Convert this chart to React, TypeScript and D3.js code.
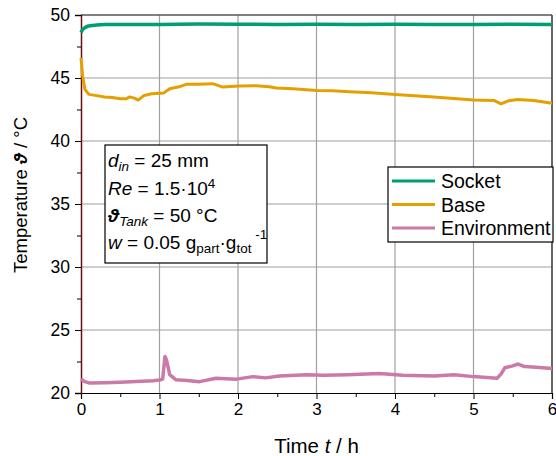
import { useEffect, useRef } from "react";
import * as d3 from "d3";

// values (time in h, temperature in °C)
const socketT = [0, 0.02, 0.05, 0.08, 0.12, 0.2, 0.3, 0.5, 1, 1.5, 2, 2.5, 3, 3.5, 4, 4.5, 5, 5.5, 6];
const socketV = [48.6, 48.85, 49.0, 49.1, 49.15, 49.2, 49.25, 49.25, 49.25, 49.28, 49.27, 49.25, 49.26, 49.25, 49.26, 49.25, 49.25, 49.26, 49.25];

const baseT = [0, 0.02, 0.05, 0.1, 0.2, 0.3, 0.4, 0.5, 0.58, 0.62, 0.68, 0.73, 0.8, 0.9, 1.0, 1.05, 1.13, 1.25, 1.34, 1.5, 1.68, 1.75, 1.81, 1.9, 2.02, 2.23, 2.4, 2.49, 2.7, 3.0, 3.2, 3.42, 3.7, 4.0, 4.25, 4.49, 4.75, 5.0, 5.26, 5.35, 5.45, 5.56, 5.77, 6.0];
const baseV = [46.6, 45.2, 44.1, 43.7, 43.6, 43.5, 43.45, 43.35, 43.35, 43.5, 43.4, 43.25, 43.6, 43.75, 43.78, 43.8, 44.15, 44.3, 44.5, 44.5, 44.55, 44.4, 44.28, 44.32, 44.37, 44.38, 44.3, 44.2, 44.15, 44.0, 43.98, 43.9, 43.82, 43.7, 43.6, 43.5, 43.38, 43.25, 43.22, 42.95, 43.2, 43.3, 43.22, 43.0];

const envT = [0, 0.05, 0.1, 0.3, 0.5, 0.7, 0.92, 1.0, 1.04, 1.07, 1.09, 1.13, 1.21, 1.35, 1.51, 1.72, 1.98, 2.19, 2.35, 2.53, 2.87, 3.1, 3.4, 3.8, 4.1, 4.5, 4.75, 5.0, 5.3, 5.35, 5.4, 5.5, 5.57, 5.65, 5.8, 6.0];
const envV = [21.1, 20.9, 20.8, 20.82, 20.86, 20.92, 20.98, 21.03, 21.1, 22.9, 22.6, 21.45, 21.05, 21.0, 20.9, 21.17, 21.1, 21.3, 21.2, 21.35, 21.45, 21.4, 21.45, 21.55, 21.4, 21.35, 21.45, 21.3, 21.17, 21.5, 22.0, 22.15, 22.3, 22.1, 22.05, 21.95];

const seriesNames = ["Socket", "Base", "Environment"];
const seriesColors = ["#009e73", "#e69f00", "#cc79a7"];
const xTicks = [0, 1, 2, 3, 4, 5, 6];
const yTicks = [20, 25, 30, 35, 40, 45, 50];

const FONT = "'Liberation Sans', Arial, sans-serif";

const App = () => {
  const ref = useRef<SVGSVGElement>(null);

  useEffect(() => {
    const svg = d3.select(ref.current);
    svg.selectAll("*").remove();

    const left = 81, right = 552, top = 15, bottom = 393;
    const x = d3.scaleLinear().domain([0, 6]).range([left, right]);
    const y = d3.scaleLinear().domain([20, 50]).range([bottom, top]);

    // grid
    const grid = svg.append("g").attr("stroke", "#a0a0a0").attr("stroke-width", 1.2);
    xTicks.slice(1, -1).forEach((t) => {
      grid.append("line").attr("x1", x(t)).attr("x2", x(t)).attr("y1", top).attr("y2", bottom);
    });
    yTicks.slice(1, -1).forEach((t) => {
      grid.append("line").attr("x1", left).attr("x2", right).attr("y1", y(t)).attr("y2", y(t));
    });

    // frame top/right
    svg.append("line").attr("x1", left).attr("x2", right).attr("y1", top).attr("y2", top)
      .attr("stroke", "#555").attr("stroke-width", 1.5);
    svg.append("line").attr("x1", right).attr("x2", right).attr("y1", top).attr("y2", bottom)
      .attr("stroke", "#333").attr("stroke-width", 1.5);

    // axes
    const xAxis = d3.axisBottom(x).tickValues(xTicks).tickSize(6).tickPadding(4).tickFormat(d3.format("d"));
    const gx = svg.append("g").attr("transform", `translate(0,${bottom})`).call(xAxis);
    gx.select(".domain").attr("stroke", "#000").attr("stroke-width", 1.2);
    gx.selectAll(".tick text").attr("font-family", FONT).attr("font-size", 17).attr("fill", "#000");
    const gxMinor = svg.append("g").attr("transform", `translate(0,${bottom})`)
      .call(d3.axisBottom(x).tickValues(d3.range(0.5, 6, 1)).tickSize(4).tickFormat(() => ""));
    gxMinor.select(".domain").remove();

    const yAxis = d3.axisLeft(y).tickValues(yTicks).tickSize(6).tickPadding(5);
    const gy = svg.append("g").attr("transform", `translate(${left},0)`).call(yAxis);
    gy.select(".domain").attr("stroke", "#6b1010").attr("stroke-width", 1.5);
    gy.selectAll(".tick text").attr("font-family", FONT).attr("font-size", 17.5).attr("fill", "#000");
    const gyMinor = svg.append("g").attr("transform", `translate(${left},0)`)
      .call(d3.axisLeft(y).tickValues(d3.range(22.5, 50, 5)).tickSize(4).tickFormat(() => ""));
    gyMinor.select(".domain").remove();

    // lines
    const line = d3.line<[number, number]>()
      .x((d) => x(d[0]))
      .y((d) => y(d[1]));
    const series: [number[], number[], number][] = [
      [socketT, socketV, 3.5],
      [baseT, baseV, 3],
      [envT, envV, 3.5],
    ];
    series.forEach(([ts, vs, w], i) => {
      svg.append("path")
        .attr("d", line(ts.map((t, j) => [t, vs[j]] as [number, number])))
        .attr("fill", "none")
        .attr("stroke", seriesColors[i])
        .attr("stroke-width", w)
        .attr("stroke-linejoin", "round");
    });

    // axis titles
    svg.append("text")
      .attr("transform", `translate(27,${(top + bottom) / 2 - 9}) rotate(-90)`)
      .attr("text-anchor", "middle")
      .attr("font-family", FONT).attr("font-size", 18.5)
      .call((t) => {
        t.append("tspan").text("Temperature ");
        t.append("tspan").attr("font-style", "italic").attr("font-weight", "bold").text("\u03d1");
        t.append("tspan").text(" / °C");
      });
    svg.append("text")
      .attr("x", (left + right) / 2).attr("y", 453)
      .attr("text-anchor", "middle")
      .attr("font-family", FONT).attr("font-size", 20.5)
      .call((t) => {
        t.append("tspan").text("Time ");
        t.append("tspan").attr("font-style", "italic").text("t");
        t.append("tspan").text(" / h");
      });

    // annotation box
    const ann = svg.append("g").attr("font-family", FONT).attr("font-size", 19);
    ann.append("rect").attr("x", 105).attr("y", 145).attr("width", 162).attr("height", 118)
      .attr("fill", "#fff").attr("stroke", "#000").attr("stroke-width", 1.2);
    const l1 = ann.append("text").attr("x", 108).attr("y", 167);
    l1.append("tspan").attr("font-style", "italic").text("d");
    l1.append("tspan").attr("font-style", "italic").attr("font-size", 13.5).attr("dy", 4).text("in");
    l1.append("tspan").attr("dy", -4).text(" = 25 mm");
    const l2 = ann.append("text").attr("x", 108).attr("y", 195);
    l2.append("tspan").attr("font-style", "italic").text("Re");
    l2.append("tspan").text(" = 1.5·10");
    l2.append("tspan").attr("font-size", 13.5).attr("dy", -7).text("4");
    const l3 = ann.append("text").attr("x", 108).attr("y", 222);
    l3.append("tspan").attr("font-style", "italic").attr("font-weight", "bold").text("\u03d1");
    l3.append("tspan").attr("font-style", "italic").attr("font-size", 13.5).attr("dy", 4).text("Tank");
    l3.append("tspan").attr("dy", -4).text(" = 50 °C");
    const l4 = ann.append("text").attr("x", 108).attr("y", 249);
    l4.append("tspan").attr("font-style", "italic").text("w");
    l4.append("tspan").text(" = 0.05 g");
    l4.append("tspan").attr("font-size", 13.5).attr("dy", 4).text("part");
    l4.append("tspan").attr("dy", -4).text("·g");
    l4.append("tspan").attr("font-size", 13.5).attr("dy", 4).text("tot");
    l4.append("tspan").attr("font-size", 13.5).attr("dy", -14).text(" -1");

    // legend
    const leg = svg.append("g").attr("font-family", FONT).attr("font-size", 19.5);
    leg.append("rect").attr("x", 388).attr("y", 167).attr("width", 165).attr("height", 75)
      .attr("fill", "#fff").attr("stroke", "#000").attr("stroke-width", 1.2);
    seriesNames.forEach((name, i) => {
      const cy = 181 + i * 23.5;
      leg.append("line").attr("x1", 392).attr("x2", 435).attr("y1", cy).attr("y2", cy)
        .attr("stroke", seriesColors[i]).attr("stroke-width", 3);
      leg.append("text").attr("x", 441).attr("y", cy + 7).text(name);
    });
  }, []);

  return <svg ref={ref} width={556} height={456} style={{ position: "absolute", left: 0, top: 0, background: "#fff" }} />;
};

export default App;
